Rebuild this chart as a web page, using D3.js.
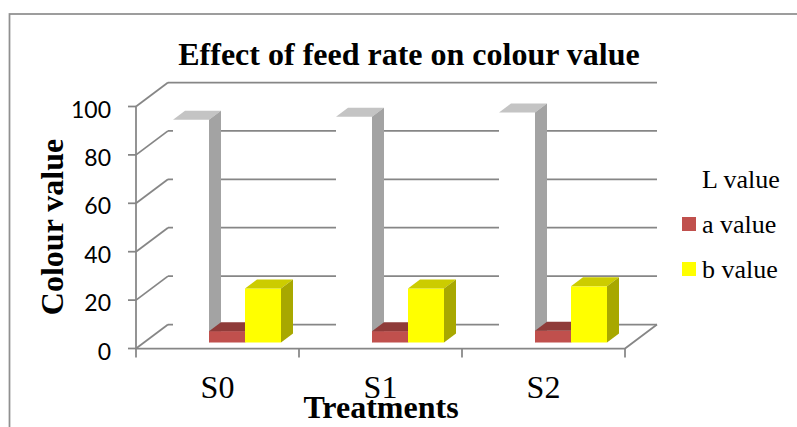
<!DOCTYPE html>
<html>
<meta charset="utf-8">
<title>Effect of feed rate on colour value</title>
<script src="https://d3js.org/d3.v7.min.js"></script>
<style>
	html, body { margin: 0; background: #fff; overflow: hidden; }
	.serif { font-family: "Liberation Serif", serif; fill: #000; }
	.sans { font-family: "Lato", sans-serif; fill: #000; }
</style>
<body>
<script>

	var categories = ["S0", "S1", "S2"];
	var seriesNames = ["L value", "a value", "b value"];
	var lValues = [92, 93.3, 95];
	var aValues = [4.7, 4.7, 4.9];
	var bValues = [22.3, 22.3, 23.2];
	var seriesValues = [lValues, aValues, bValues];
	var yTicks = [0, 20, 40, 60, 80, 100];

	// face colours per series: front, top, side
	var front = ["#ffffff", "#c0504d", "#ffff00"];
	var topFace = ["#c4c4c4", "#8f3b39", "#cccc00"];
	var side = ["#a3a3a3", "#a8433f", "#a8a800"];
	var legendFill = ["#ffffff", "#c0504d", "#ffff00"];

	var width = 797, height = 427;
	var grid = "#868686";
	var wall = {dx: 32, dy: -24}, depth = {dx: 12, dy: -9};

	var svg = d3.select("body").append("svg")
		.attr("width", width)
		.attr("height", height);

	// frame runs off the right and bottom of the picture
	svg.append("rect")
		.attr("x", 9.5).attr("y", 14)
		.attr("width", 800).attr("height", 430)
		.attr("fill", "#fff").attr("stroke", "#909090").attr("stroke-width", 1.75);

	var x = d3.scaleBand().domain(categories).range([136, 625]);
	var xSeries = d3.scaleBand().domain(d3.range(3)).range([37, 145]);
	var y = d3.scaleLinear().domain([0, 100]).range([348.5, 106.5]);
	var base = 342.5;
	function barY(v) { return base - (y(0) - y(v)); }

	// back wall lines
	svg.append("g").selectAll("line").data(yTicks).enter().append("line")
		.attr("x1", x.range()[0] + wall.dx)
		.attr("x2", x.range()[1] + wall.dx)
		.attr("y1", function(d) { return y(d) + wall.dy; })
		.attr("y2", function(d) { return y(d) + wall.dy; })
		.attr("stroke", grid).attr("stroke-width", 1.75);

	// side wall lines
	svg.append("g").selectAll("line").data(yTicks).enter().append("line")
		.attr("x1", x.range()[0])
		.attr("x2", x.range()[0] + wall.dx)
		.attr("y1", function(d) { return y(d); })
		.attr("y2", function(d) { return y(d) + wall.dy; })
		.attr("stroke", grid).attr("stroke-width", 1.75);

	// front axis and floor
	var axisLine = d3.line();
	svg.append("path")
		.attr("d", axisLine([
			[x.range()[0], y(100)], [x.range()[0], y(0)], [x.range()[1], y(0)],
			[x.range()[1] + wall.dx, y(0) + wall.dy]
		]))
		.attr("fill", "none").attr("stroke", grid).attr("stroke-width", 1.75);

	svg.append("g").selectAll("line").data(yTicks).enter().append("line")
		.attr("x1", x.range()[0] - 8).attr("x2", x.range()[0])
		.attr("y1", function(d) { return y(d); })
		.attr("y2", function(d) { return y(d); })
		.attr("stroke", grid).attr("stroke-width", 1.75);

	svg.append("g").selectAll("line").data(categories.concat([null])).enter().append("line")
		.attr("x1", function(d) { return d === null ? x.range()[1] : x(d); })
		.attr("x2", function(d) { return d === null ? x.range()[1] : x(d); })
		.attr("y1", y(0)).attr("y2", y(0) + 9)
		.attr("stroke", grid).attr("stroke-width", 1.75);

	// bars, drawn as three faces each
	categories.forEach(function(cat, c) {
		var g = svg.append("g");
		seriesValues.forEach(function(values, s) {
			var x0 = x(cat) + xSeries(s), x1 = x0 + xSeries.bandwidth(), yt = barY(values[c]);
			g.append("rect")
				.attr("x", x0).attr("y", yt)
				.attr("width", x1 - x0).attr("height", base - yt)
				.attr("fill", front[s]);
			g.append("path")
				.attr("d", axisLine([[x0, yt], [x0 + depth.dx, yt + depth.dy], [x1 + depth.dx, yt + depth.dy], [x1, yt]]) + "Z")
				.attr("fill", topFace[s]);
			g.append("path")
				.attr("d", axisLine([[x1, yt], [x1 + depth.dx, yt + depth.dy], [x1 + depth.dx, base + depth.dy], [x1, base]]) + "Z")
				.attr("fill", side[s]);
		});
	});

	// tick labels
	svg.append("g").selectAll("text").data(yTicks).enter().append("text")
		.attr("class", "sans")
		.attr("x", 111)
		.attr("y", function(d) { return y(d) + 11; })
		.attr("text-anchor", "end")
		.style("font-size", "23px")
		.text(function(d) { return d; });

	svg.append("g").selectAll("text").data(categories).enter().append("text")
		.attr("class", "serif")
		.attr("x", function(d) { return x(d) + x.bandwidth() / 2; })
		.attr("y", 398)
		.attr("text-anchor", "middle")
		.style("font-size", "32px")
		.text(function(d) { return d; });

	svg.append("text").attr("class", "serif")
		.attr("x", 409).attr("y", 65)
		.attr("text-anchor", "middle")
		.style("font-size", "32px").style("font-weight", "bold")
		.text("Effect of feed rate on colour value");

	svg.append("text").attr("class", "serif")
		.attr("x", 381).attr("y", 418)
		.attr("text-anchor", "middle")
		.style("font-size", "32px").style("font-weight", "bold")
		.text("Treatments");

	svg.append("text").attr("class", "serif")
		.attr("transform", "translate(63,227)rotate(-90)")
		.attr("text-anchor", "middle")
		.style("font-size", "32px").style("font-weight", "bold")
		.text("Colour value");

	// legend
	var legendY = d3.scalePoint().domain(seriesNames).range([172, 262]);
	var legend = svg.append("g").selectAll("g").data(seriesNames).enter().append("g");
	legend.append("rect")
		.attr("x", 682).attr("width", 14).attr("height", 14)
		.attr("y", function(d) { return legendY(d); })
		.attr("fill", function(d, i) { return legendFill[i]; });
	legend.append("text")
		.attr("class", "serif")
		.attr("x", 702)
		.attr("y", function(d) { return legendY(d) + 16; })
		.style("font-size", "26px")
		.text(function(d) { return d; });

</script>
</body>
</html>
